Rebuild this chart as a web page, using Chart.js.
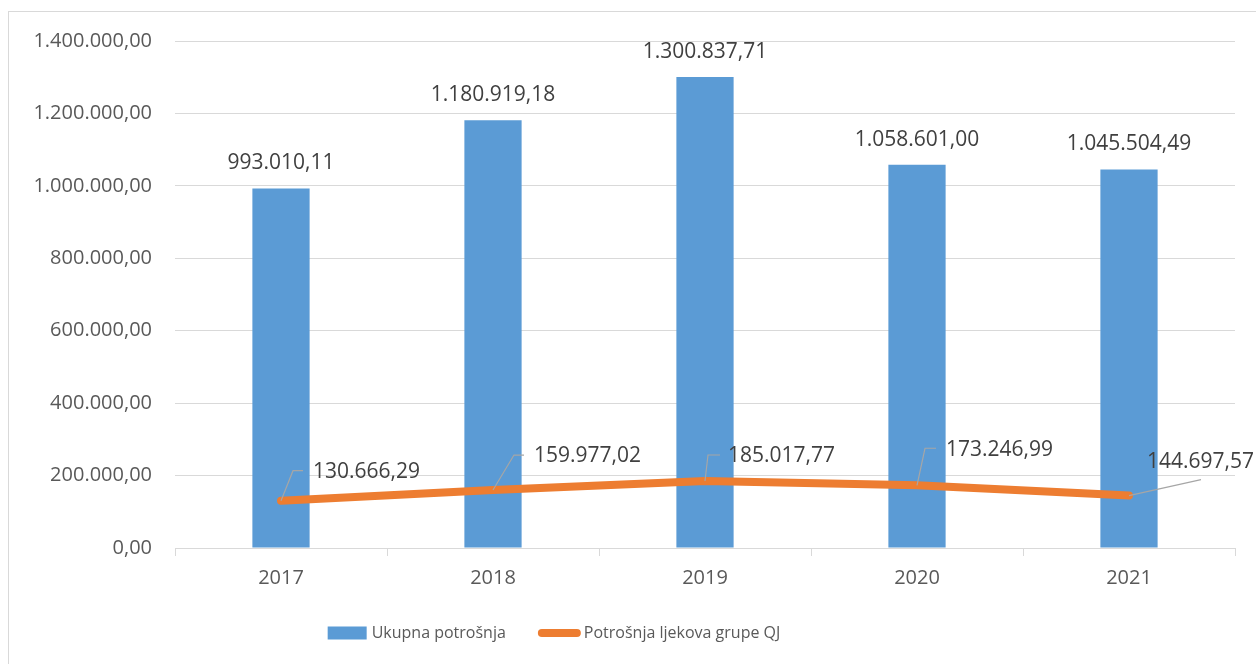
<!DOCTYPE html>
<html>
<head>
<meta charset="utf-8">
<script src="https://cdn.jsdelivr.net/npm/chart.js@4.4.1/dist/chart.umd.min.js"></script>
<style>
  html, body { margin: 0; padding: 0; background: #ffffff; }
  #wrap { position: relative; width: 1256px; height: 664px; overflow: hidden; }
  #frame { position: absolute; left: 8px; top: 11px; width: 1300px; height: 700px; border: 1px solid #d9d9d9; box-sizing: border-box; }
  #c { position: absolute; left: 0; top: 0; }
</style>
</head>
<body>
<div id="wrap">
  <div id="frame"></div>
  <canvas id="c" width="1256" height="664"></canvas>
</div>
<script>
const categories = ['2017', '2018', '2019', '2020', '2021'];
const ukupnaPotrosnja = [993010.11, 1180919.18, 1300837.71, 1058601.00, 1045504.49];
const potrosnjaQJ = [130666.29, 159977.02, 185017.77, 173246.99, 144697.57];
const seriesNames = ['Ukupna potrošnja', 'Potrošnja ljekova grupe QJ'];
const yTickMin = 0, yTickMax = 1400000, yTickStep = 200000;

function fmt(v) {
  const fixed = Math.abs(v).toFixed(2);
  const parts = fixed.split('.');
  const intPart = parts[0].replace(/\B(?=(\d{3})+(?!\d))/g, '.');
  return (v < 0 ? '-' : '') + intPart + ',' + parts[1];
}

// label placement for line data labels (relative to point): elbow, end of leader, text anchor
const lineLabelLayout = [
  { elbow: [12, -30], end: [22, -30], text: [32, -29] },
  { elbow: [21, -35], end: [31, -35], text: [41, -34] },
  { elbow: [3, -26], end: [15, -26], text: [23, -25] },
  { elbow: [8, -37], end: [19, -37], text: [29, -35] },
  { elbow: null, end: [72, -16], text: [18, -34] }
];

const labelsPlugin = {
  id: 'dataLabels',
  afterDatasetsDraw(chart) {
    const ctx = chart.ctx;
    ctx.save();
    ctx.font = '21px "Open Sans"';
    ctx.fillStyle = '#404040';
    ctx.textBaseline = 'middle';
    const barMeta = chart.getDatasetMeta(0);
    ctx.textAlign = 'center';
    barMeta.data.forEach((el, i) => {
      ctx.fillText(fmt(chart.data.datasets[0].data[i]), el.x, el.y - 25);
    });
    const lineMeta = chart.getDatasetMeta(1);
    lineMeta.data.forEach((el, i) => {
      const L = lineLabelLayout[i];
      ctx.strokeStyle = '#a6a6a6';
      ctx.lineWidth = 1.2;
      ctx.beginPath();
      ctx.moveTo(el.x, el.y);
      if (L.elbow) ctx.lineTo(el.x + L.elbow[0], el.y + L.elbow[1]);
      ctx.lineTo(el.x + L.end[0], el.y + L.end[1]);
      ctx.stroke();
      ctx.textAlign = 'left';
      ctx.fillText(fmt(chart.data.datasets[1].data[i]), el.x + L.text[0], el.y + L.text[1]);
    });
    ctx.restore();
  }
};

const legendPlugin = {
  id: 'excelLegend',
  afterDraw(chart) {
    const ctx = chart.ctx;
    const ds = chart.data.datasets;
    ctx.save();
    ctx.font = '16px "Open Sans"';
    ctx.textBaseline = 'middle';
    ctx.textAlign = 'left';
    const cy = 633;
    const w1 = ctx.measureText(ds[0].label).width;
    const w2 = ctx.measureText(ds[1].label).width;
    const total = 39 + 5 + w1 + 32 + 43 + 3 + w2;
    let x = 554 - total / 2;
    ctx.fillStyle = ds[0].backgroundColor;
    ctx.fillRect(x, cy - 6.5, 39, 13);
    x += 39 + 5;
    ctx.fillStyle = '#595959';
    ctx.fillText(ds[0].label, x, cy);
    x += w1 + 32;
    ctx.strokeStyle = ds[1].borderColor;
    ctx.lineWidth = 8;
    ctx.lineCap = 'round';
    ctx.beginPath();
    ctx.moveTo(x + 4, cy);
    ctx.lineTo(x + 39, cy);
    ctx.stroke();
    x += 43 + 3;
    ctx.fillStyle = '#595959';
    ctx.fillText(ds[1].label, x, cy);
    ctx.restore();
  }
};

new Chart(document.getElementById('c'), {
  data: {
    labels: categories,
    datasets: [
      {
        type: 'bar',
        label: seriesNames[0],
        data: ukupnaPotrosnja,
        backgroundColor: '#5b9bd5',
        borderWidth: 0,
        barPercentage: 0.27,
        categoryPercentage: 1,
        order: 1
      },
      {
        type: 'line',
        label: seriesNames[1],
        data: potrosnjaQJ,
        borderColor: '#ed7d31',
        backgroundColor: '#ed7d31',
        borderWidth: 8,
        borderCapStyle: 'round',
        borderJoinStyle: 'round',
        pointRadius: 0,
        pointHoverRadius: 0,
        tension: 0,
        order: 0
      }
    ]
  },
  options: {
    responsive: false,
    animation: false,
    devicePixelRatio: 1,
    layout: { padding: { left: 0, right: 21, top: 41, bottom: 67 } },
    plugins: {
      tooltip: { enabled: false },
      legend: { display: false }
    },
    scales: {
      x: {
        grid: { display: true, drawOnChartArea: false, drawTicks: true, tickLength: 8, offset: true, color: '#d9d9d9' },
        border: { display: true, color: '#d9d9d9', width: 1 },
        ticks: { color: '#595959', font: { family: '"Open Sans"', size: 20 }, padding: 10 },
        afterFit(s) { s.height = 49; }
      },
      y: {
        min: yTickMin,
        max: yTickMax,
        ticks: {
          stepSize: yTickStep,
          color: '#595959',
          font: { family: '"Open Sans"', size: 20 },
          padding: 23,
          callback: (v) => fmt(v)
        },
        grid: { color: '#d9d9d9', drawTicks: false, lineWidth: 1 },
        border: { display: false },
        afterFit(s) { s.width = 175; }
      }
    }
  },
  plugins: [labelsPlugin, legendPlugin]
});
</script>
</body>
</html>
